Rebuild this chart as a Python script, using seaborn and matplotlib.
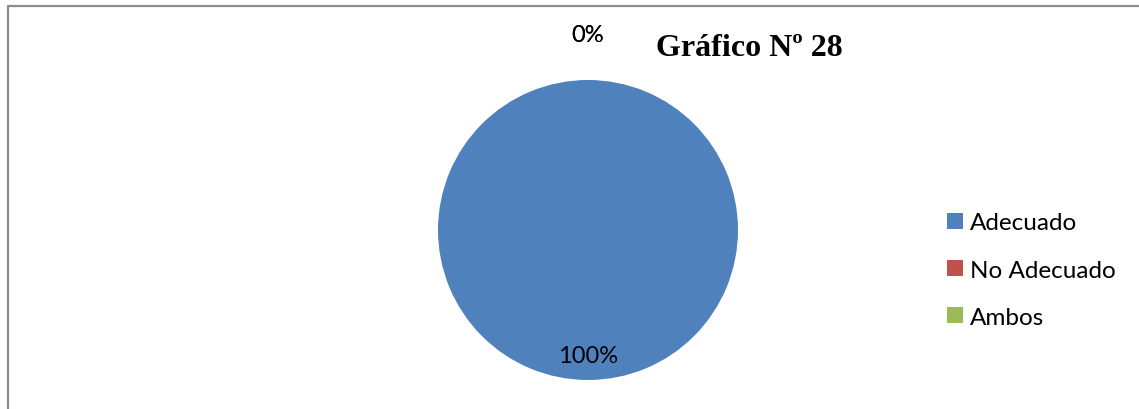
import matplotlib
matplotlib.use("Agg")
import matplotlib.pyplot as plt
from matplotlib.lines import Line2D
import seaborn as sns

# Survey result for chart 28
categories = ["Adecuado", "No Adecuado", "Ambos"]
values = [100, 0, 0]
colors = ["#4F81BD", "#C0504D", "#9BBB59"]
title = "Gráfico Nº 28"

sns.set_theme(style="white")
plt.rcParams["font.family"] = ["Lato", "DejaVu Sans"]
plt.rcParams["text.color"] = "black"

W, H = 1139, 410
fig = plt.figure(figsize=(W / 100, H / 100), dpi=100)
fig.patch.set_facecolor("white")

# pie axes: 300x300 px square centred at (588, 231)
cx, cy, r = 588, 231, 150
ax = fig.add_axes([(cx - r) / W, (H - cy - r) / H, 2 * r / W, 2 * r / H])

total = sum(values)
wedges, _, autotexts = ax.pie(
    values,
    colors=sns.color_palette(colors),
    startangle=90,
    counterclock=False,
    autopct=lambda p: f"{p:.0f}%",
    pctdistance=0.835,
    radius=1.0,
    wedgeprops=dict(linewidth=0),
    textprops=dict(fontsize=17, color="black"),
)
# empty slices get their labels pushed outside the pie
for val, t in zip(values, autotexts):
    if val / total < 0.05:
        x, y = t.get_position()
        t.set_position((x * 1.30 / 0.835, y * 1.30 / 0.835))
    t.set_clip_on(False)
ax.set_xlim(-1, 1)
ax.set_ylim(-1, 1)
ax.set_aspect("auto")
ax.axis("off")

fig.text(749 / W, 1 - 49 / H, title, ha="center", va="center", color="black",
         fontsize=23, fontweight="bold", family=["Liberation Serif", "DejaVu Serif"])

leg = fig.legend(wedges, categories, loc="center left",
                 bbox_to_anchor=(947 / W, 1 - 271 / H),
                 frameon=False, fontsize=17.5, borderpad=0, borderaxespad=0,
                 handlelength=0.66, handleheight=0.66, handletextpad=0.29,
                 labelspacing=1.08)
for t in leg.get_texts():
    t.set_color("black")

# chart frame (top and left edges)
fc = "#8c8c8c"
fig.add_artist(Line2D([7.5 / W, 7.5 / W], [0, 1 - 6.5 / H], color=fc, lw=1.6))
fig.add_artist(Line2D([7.5 / W, 1], [1 - 6.5 / H, 1 - 6.5 / H], color=fc, lw=1.6))

fig.savefig("out.png", dpi=100, facecolor="white")
